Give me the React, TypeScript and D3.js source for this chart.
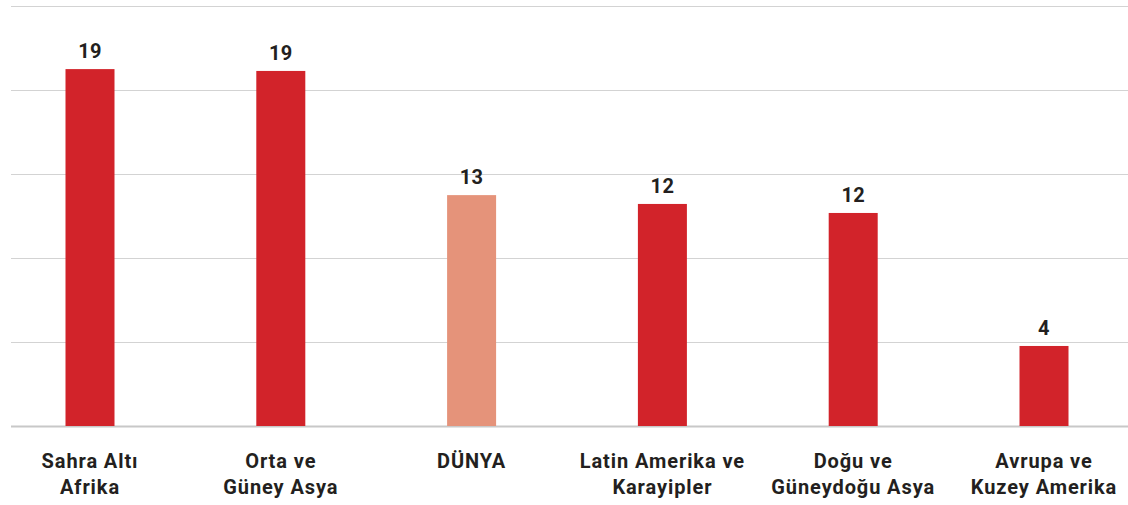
import React from "react";
import * as d3 from "d3";

const categories: string[][] = [
  ["Sahra Altı", "Afrika"],
  ["Orta ve", "Güney Asya"],
  ["DÜNYA"],
  ["Latin Amerika ve", "Karayipler"],
  ["Doğu ve", "Güneydoğu Asya"],
  ["Avrupa ve", "Kuzey Amerika"],
];
const keys = ["saa", "oga", "dunya", "lak", "dga", "akm"];
const values = [19.4, 19.3, 12.55, 12.07, 11.58, 4.35];
const valueLabels = ["19", "19", "13", "12", "12", "4"];
const highlight = [false, false, true, false, false, false];

const W = 1128;
const H = 505;
const yMax = 22.83;
const gridCount = 5;

export default function App() {
  const x = d3.scaleBand<string>().domain(keys).range([-5.4, 1139.4]).paddingInner(0).paddingOuter(0);
  const y = d3.scaleLinear().domain([0, yMax]).range([426, 6]);
  const grid = d3.range(0, gridCount + 1).map((i) => (yMax * i) / gridCount);
  const barW = 49;
  const font = "Roboto, 'DejaVu Sans', sans-serif";
  return (
    <svg
      width={W}
      height={H}
      style={{ position: "absolute", left: 0, top: 0, background: "#fff" }}
    >
      {grid.map((g, i) => (
        <line
          key={i}
          x1={11}
          x2={W}
          y1={Math.round(y(g)) + 0.5}
          y2={Math.round(y(g)) + 0.5}
          stroke={i === 0 ? "#c8c8c8" : "#d3d3d3"}
          strokeWidth={i === 0 ? 2 : 1.2}
        />
      ))}
      {keys.map((k, i) => {
        const cx = (x(k) as number) + x.bandwidth() / 2;
        return (
          <g key={k}>
            <rect
              x={cx - barW / 2}
              y={y(values[i])}
              width={barW}
              height={y(0) - y(values[i])}
              fill={highlight[i] ? "#e5937a" : "#d2232a"}
            />
            <text
              x={cx}
              y={y(values[i]) - 11}
              textAnchor="middle"
              fontFamily={font}
              fontWeight={700}
              fontSize={20}
              letterSpacing={0.3}
              fill="#231f20"
            >
              {valueLabels[i]}
            </text>
            {categories[i].map((line, j) => (
              <text
                key={j}
                x={cx}
                y={468 + j * 26}
                textAnchor="middle"
                fontFamily={font}
                fontWeight={700}
                fontSize={20}
                letterSpacing={0.9}
                fill="#231f20"
              >
                {line}
              </text>
            ))}
          </g>
        );
      })}
    </svg>
  );
}
